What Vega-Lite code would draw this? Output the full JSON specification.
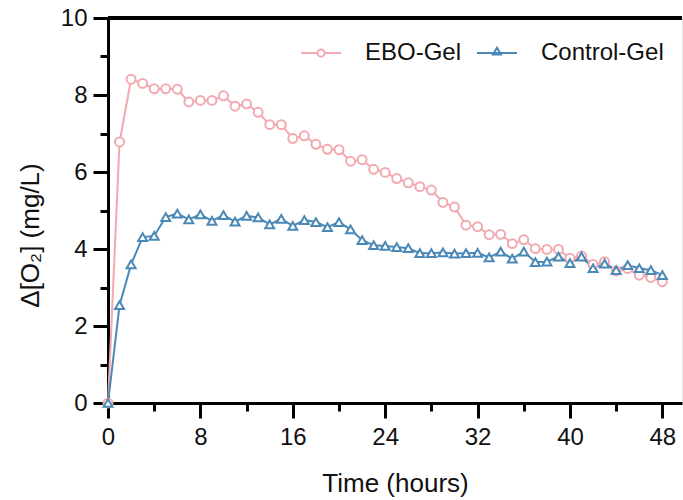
{
  "$schema": "https://vega.github.io/schema/vega-lite/v6.json",
  "autosize": "none",
  "width": 574,
  "height": 385,
  "padding": {"left": 108, "top": 18, "right": 1, "bottom": 97},
  "background": "white",
  "config": {
    "view": {"stroke": "#e4e4e4", "strokeWidth": 1},
    "font": "Liberation Sans",
    "axis": {"labelFont": "Liberation Sans", "titleFont": "Liberation Sans", "labelColor": "#111", "titleColor": "#111", "domainColor": "black", "tickColor": "black", "domainWidth": 3, "tickWidth": 3, "tickOpacity": 1, "ticks": true, "grid": false, "labelFontSize": 24, "titleFontSize": 26, "titleFontWeight": "normal",
      "encode": {"ticks": {"update": {"strokeWidth": {"value": 3}, "stroke": {"value": "#000000"}, "strokeOpacity": {"value": 1}}}}}
  },
  "data": {"values": [
    {"t":0,"s":"EBO-Gel","v":0},{"t":1,"s":"EBO-Gel","v":6.78},{"t":2,"s":"EBO-Gel","v":8.41},{"t":3,"s":"EBO-Gel","v":8.30},{"t":4,"s":"EBO-Gel","v":8.16},{"t":5,"s":"EBO-Gel","v":8.16},{"t":6,"s":"EBO-Gel","v":8.15},{"t":7,"s":"EBO-Gel","v":7.82},{"t":8,"s":"EBO-Gel","v":7.86},{"t":9,"s":"EBO-Gel","v":7.86},{"t":10,"s":"EBO-Gel","v":7.98},{"t":11,"s":"EBO-Gel","v":7.71},{"t":12,"s":"EBO-Gel","v":7.77},{"t":13,"s":"EBO-Gel","v":7.55},{"t":14,"s":"EBO-Gel","v":7.23},{"t":15,"s":"EBO-Gel","v":7.23},{"t":16,"s":"EBO-Gel","v":6.87},{"t":17,"s":"EBO-Gel","v":6.94},{"t":18,"s":"EBO-Gel","v":6.72},{"t":19,"s":"EBO-Gel","v":6.59},{"t":20,"s":"EBO-Gel","v":6.58},{"t":21,"s":"EBO-Gel","v":6.28},{"t":22,"s":"EBO-Gel","v":6.32},{"t":23,"s":"EBO-Gel","v":6.07},{"t":24,"s":"EBO-Gel","v":5.99},{"t":25,"s":"EBO-Gel","v":5.83},{"t":26,"s":"EBO-Gel","v":5.72},{"t":27,"s":"EBO-Gel","v":5.62},{"t":28,"s":"EBO-Gel","v":5.53},{"t":29,"s":"EBO-Gel","v":5.21},{"t":30,"s":"EBO-Gel","v":5.09},{"t":31,"s":"EBO-Gel","v":4.62},{"t":32,"s":"EBO-Gel","v":4.58},{"t":33,"s":"EBO-Gel","v":4.37},{"t":34,"s":"EBO-Gel","v":4.38},{"t":35,"s":"EBO-Gel","v":4.14},{"t":36,"s":"EBO-Gel","v":4.24},{"t":37,"s":"EBO-Gel","v":4.01},{"t":38,"s":"EBO-Gel","v":3.99},{"t":39,"s":"EBO-Gel","v":3.99},{"t":40,"s":"EBO-Gel","v":3.76},{"t":41,"s":"EBO-Gel","v":3.82},{"t":42,"s":"EBO-Gel","v":3.60},{"t":43,"s":"EBO-Gel","v":3.67},{"t":44,"s":"EBO-Gel","v":3.43},{"t":45,"s":"EBO-Gel","v":3.49},{"t":46,"s":"EBO-Gel","v":3.32},{"t":47,"s":"EBO-Gel","v":3.26},{"t":48,"s":"EBO-Gel","v":3.15},
    {"t":0,"s":"Control-Gel","v":0},{"t":1,"s":"Control-Gel","v":2.54},{"t":2,"s":"Control-Gel","v":3.60},{"t":3,"s":"Control-Gel","v":4.31},{"t":4,"s":"Control-Gel","v":4.34},{"t":5,"s":"Control-Gel","v":4.83},{"t":6,"s":"Control-Gel","v":4.92},{"t":7,"s":"Control-Gel","v":4.77},{"t":8,"s":"Control-Gel","v":4.90},{"t":9,"s":"Control-Gel","v":4.73},{"t":10,"s":"Control-Gel","v":4.88},{"t":11,"s":"Control-Gel","v":4.71},{"t":12,"s":"Control-Gel","v":4.86},{"t":13,"s":"Control-Gel","v":4.82},{"t":14,"s":"Control-Gel","v":4.64},{"t":15,"s":"Control-Gel","v":4.78},{"t":16,"s":"Control-Gel","v":4.60},{"t":17,"s":"Control-Gel","v":4.75},{"t":18,"s":"Control-Gel","v":4.70},{"t":19,"s":"Control-Gel","v":4.57},{"t":20,"s":"Control-Gel","v":4.70},{"t":21,"s":"Control-Gel","v":4.51},{"t":22,"s":"Control-Gel","v":4.23},{"t":23,"s":"Control-Gel","v":4.10},{"t":24,"s":"Control-Gel","v":4.08},{"t":25,"s":"Control-Gel","v":4.05},{"t":26,"s":"Control-Gel","v":4.02},{"t":27,"s":"Control-Gel","v":3.89},{"t":28,"s":"Control-Gel","v":3.89},{"t":29,"s":"Control-Gel","v":3.91},{"t":30,"s":"Control-Gel","v":3.88},{"t":31,"s":"Control-Gel","v":3.89},{"t":32,"s":"Control-Gel","v":3.90},{"t":33,"s":"Control-Gel","v":3.78},{"t":34,"s":"Control-Gel","v":3.93},{"t":35,"s":"Control-Gel","v":3.75},{"t":36,"s":"Control-Gel","v":3.93},{"t":37,"s":"Control-Gel","v":3.66},{"t":38,"s":"Control-Gel","v":3.67},{"t":39,"s":"Control-Gel","v":3.80},{"t":40,"s":"Control-Gel","v":3.63},{"t":41,"s":"Control-Gel","v":3.80},{"t":42,"s":"Control-Gel","v":3.50},{"t":43,"s":"Control-Gel","v":3.62},{"t":44,"s":"Control-Gel","v":3.45},{"t":45,"s":"Control-Gel","v":3.58},{"t":46,"s":"Control-Gel","v":3.50},{"t":47,"s":"Control-Gel","v":3.45},{"t":48,"s":"Control-Gel","v":3.32}
  ]},
  "layer": [
    {"mark": {"type": "rule", "color": "black", "strokeWidth": 3},
     "encoding": {"y": {"datum": 10, "type": "quantitative", "scale": {"domain": [0, 10], "nice": false}, "axis": null}}},
    {"mark": {"type": "line", "strokeWidth": 2},
     "encoding": {
       "x": {"field": "t", "type": "quantitative", "scale": {"domain": [0, 49.7], "nice": false, "zero": false},
         "axis": {"title": "Time (hours)", "values": [0,8,16,24,32,40,48], "tickSize": 15, "labelPadding": 7, "titleY": 80, "titleBaseline": "middle", "labelFlush": false}},
       "y": {"field": "v", "type": "quantitative", "scale": {"domain": [0, 10], "nice": false},
         "axis": {"title": "Δ[O₂]  (mg/L)", "values": [0,2,4,6,8,10], "tickSize": 15, "labelPadding": 6, "titleX": -78, "titleY": 217, "titleAlign": "center", "titleBaseline": "middle", "titleAngle": -90, "labelFlush": false}},
       "color": {"field": "s", "type": "nominal", "scale": {"domain": ["EBO-Gel", "Control-Gel"], "range": ["#F2A9AF", "#4A88B6"]}, "legend": null}}},
    {"mark": {"type": "point", "filled": false, "fill": "white", "fillOpacity": 1, "strokeWidth": 2, "size": 80, "opacity": 1},
     "encoding": {
       "x": {"field": "t", "type": "quantitative", "axis": null},
       "y": {"field": "v", "type": "quantitative", "axis": null},
       "color": {"field": "s", "type": "nominal", "legend": null},
       "shape": {"field": "s", "type": "nominal", "scale": {"domain": ["EBO-Gel", "Control-Gel"], "range": ["circle", "triangle-up"]}, "legend": null}}},
    {"mark": {"type": "point", "filled": false, "opacity": 0, "size": 10},
     "encoding": {
       "x": {"field": "t", "type": "quantitative", "axis": {"orient": "bottom", "title": null, "values": [4,12,20,28,36,44], "labels": false, "domain": false, "tickSize": 8}},
       "y": {"field": "v", "type": "quantitative", "axis": {"orient": "left", "title": null, "values": [1,3,5,7,9], "labels": false, "domain": false, "tickSize": 8}},
       "stroke": {"field": "s", "type": "nominal", "scale": {"domain": ["EBO-Gel", "Control-Gel"], "range": ["#F2A9AF", "#4A88B6"]},
         "legend": {"title": null, "orient": "none", "legendX": 192, "legendY": 14, "direction": "horizontal", "symbolSize": 1600, "symbolStrokeWidth": 2, "symbolOpacity": 1, "symbolFillColor": "white", "labelFontSize": 24, "labelFont": "Liberation Sans", "labelColor": "#111", "labelOffset": 23, "columnPadding": 11, "padding": 0}},
       "shape": {"field": "s", "type": "nominal",
         "scale": {"domain": ["EBO-Gel", "Control-Gel"], "range": ["M-1,0H-0.18M0.18,0H1M-0.18,0A0.18,0.18,0,1,1,0.18,0A0.18,0.18,0,1,1,-0.18,0", "M-1,0H1M0,-0.26L0.2,0.08L-0.2,0.08Z"]},
         "legend": {"title": null, "orient": "none", "legendX": 192, "legendY": 14, "direction": "horizontal", "symbolSize": 1600, "symbolStrokeWidth": 2, "symbolOpacity": 1, "symbolFillColor": "white", "labelFontSize": 24, "labelFont": "Liberation Sans", "labelColor": "#111", "labelOffset": 23, "columnPadding": 11, "padding": 0}}}}
  ],
  "resolve": {"scale": {"shape": "independent", "stroke": "independent"}, "legend": {"shape": "independent", "stroke": "independent"}, "axis": {"x": "independent", "y": "independent"}}
}
